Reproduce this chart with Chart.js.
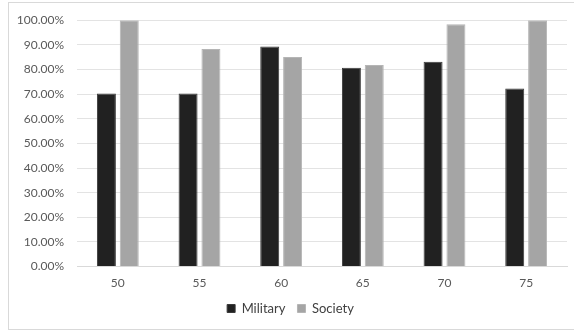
<!DOCTYPE html>
<html>
<head>
<meta charset="utf-8">
<script src="https://cdn.jsdelivr.net/npm/chart.js@4/dist/chart.umd.min.js"></script>
<style>
  html, body { margin: 0; padding: 0; background: #fff; overflow: hidden; }
  #frame { position: absolute; left: 8px; top: 2px; width: 600px; height: 326px; border: 1px solid #d9d9d9; }
  #wrap { position: absolute; left: 0; top: 0; width: 574px; height: 331px; }
</style>
</head>
<body>
<div id="frame"></div>
<div id="wrap"><canvas id="chart"></canvas></div>
<script>
var ages = ['50', '55', '60', '65', '70', '75'];
var military = [70.3, 70.3, 89.3, 80.7, 83.1, 72.3];
var society = [100, 88.3, 85.1, 81.8, 98.4, 100];

var font = { family: 'Lato', size: 12 };

var chart = new Chart('chart', {
  type: 'bar',
  data: {
    labels: ages,
    datasets: [
      {
        label: 'Military',
        data: military,
        backgroundColor: '#212121',
        borderColor: '#3a3a3a',
        borderWidth: 1
      },
      {
        label: 'Society',
        data: society,
        backgroundColor: '#a5a5a5',
        borderColor: '#b5b5b5',
        borderWidth: 1
      }
    ]
  },
  options: {
    responsive: true,
    maintainAspectRatio: false,
    animation: false,
    categoryPercentage: 0.56,
    barPercentage: 0.83,
    layout: { padding: { top: 18, right: 7, left: 14, bottom: 6 } },
    plugins: {
      tooltip: { enabled: false },
      legend: {
        position: 'bottom',
        labels: {
          boxWidth: 8,
          boxHeight: 8,
          padding: 12,
          color: '#404040',
          font: { family: 'Lato', size: 13 }
        }
      }
    },
    scales: {
      x: {
        // labels keep their padding, the axis just takes less room
        afterFit: function(scale) { scale.height -= 9; },
        grid: { display: false, drawTicks: false },
        border: { color: '#d9d9d9' },
        ticks: { color: '#595959', font: font, padding: 9 }
      },
      y: {
        min: 0,
        max: 100,
        afterFit: function(scale) { scale.width = 63; },
        grid: { color: '#e3e3e3', drawTicks: false },
        border: { display: false },
        ticks: {
          stepSize: 10,
          color: '#595959',
          font: font,
          padding: 13,
          callback: function(v) { return v.toFixed(2) + '%'; }
        }
      }
    }
  }
});
</script>
</body>
</html>
